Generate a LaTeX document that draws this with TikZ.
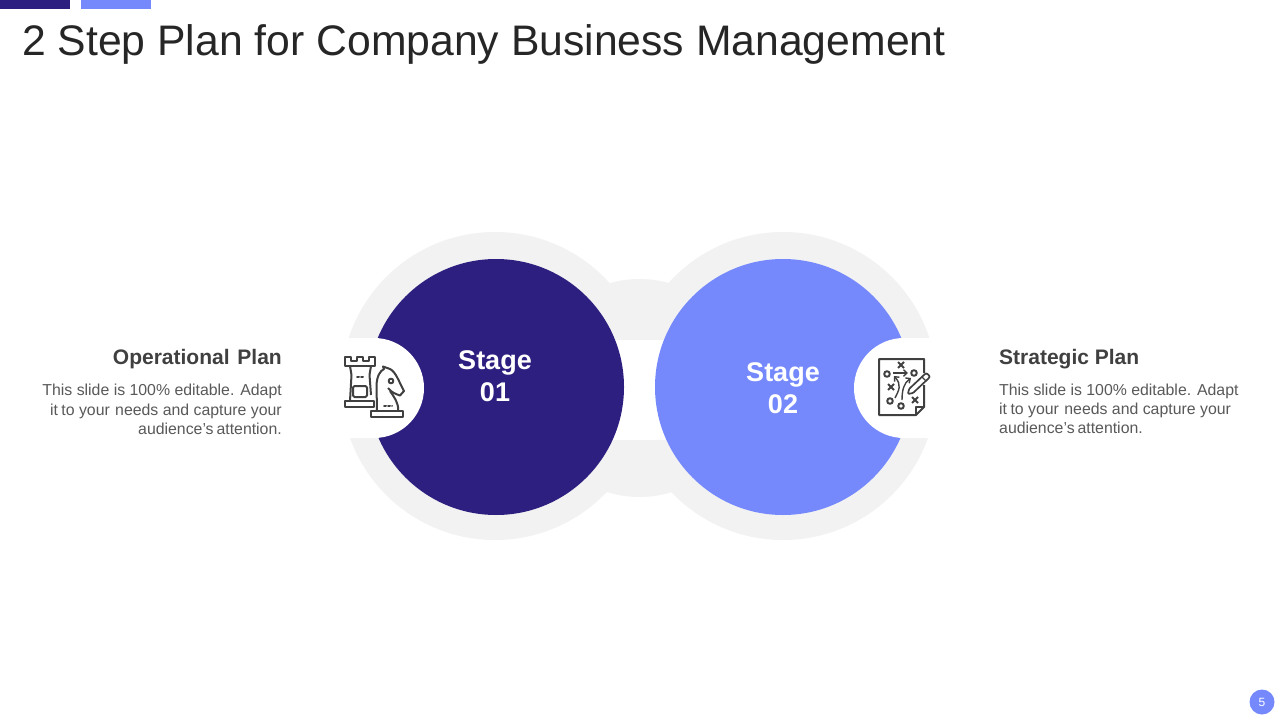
\documentclass[tikz,border=0pt]{standalone}
\usepackage{fontspec}
\usetikzlibrary{arrows.meta}
\setmainfont{Liberation Sans}
\definecolor{darkblue}{HTML}{2D1F80}
\definecolor{lightblue}{HTML}{7589FD}
\definecolor{ringgray}{HTML}{F2F2F2}
\definecolor{bodygray}{HTML}{595959}
\definecolor{headgray}{HTML}{404040}
\definecolor{titlegray}{HTML}{262626}
\definecolor{iconline}{HTML}{404040}
\tikzset{
 disc/.style={circle,inner sep=0pt,outer sep=0pt,minimum size=#1},
 stagetext/.style={font=\fontsize{27}{32}\selectfont\bfseries,text=white,align=center,inner sep=0pt},
 headr/.style={font=\fontsize{21}{24}\selectfont\bfseries,text=headgray,anchor=base east,inner sep=0pt},
 headl/.style={font=\fontsize{21}{24}\selectfont\bfseries,text=headgray,anchor=base west,inner sep=0pt},
 bodyr/.style={font=\fontsize{15.85}{19}\selectfont,text=bodygray,anchor=base east,inner sep=0pt},
 bodyl/.style={font=\fontsize{15.85}{19}\selectfont,text=bodygray,anchor=base west,inner sep=0pt},
 icon/.style={draw=iconline,line width=2pt,line join=round,fill=none},
 barb/.style={-{Straight Barb[length=3.5pt,width=6.5pt]}},
}
\begin{document}
\begin{tikzpicture}[x=1pt,y=-1pt]
\useasboundingbox[fill=white] (0,0) rectangle (1280,720);
% top bars
\fill[darkblue] (0,0) rectangle (70,8.5);
\fill[lightblue] (81,0) rectangle (151,8.5);
\node[anchor=base west,inner sep=0pt,text=titlegray,font=\fontsize{42.7}{48}\selectfont] (title) at (22,55) {2 Step Plan for Company Business Management};
% gray backgrounds
\node[disc=218pt,fill=ringgray] (mid) at (639.5,388) {};
\node[disc=308pt,fill=ringgray] (ringa) at (495,386) {};
\node[disc=308pt,fill=ringgray] (ringb) at (783,386) {};
\fill[white] (560,340) rectangle (720,440);
% main circles
\node[disc=256pt,fill=darkblue] (stagea) at (496,387) {};
\node[disc=256pt,fill=lightblue] (stageb) at (783,387) {};
% white notches
\fill[white] (374,338) arc[start angle=-90,end angle=90,radius=50] -- (330,438) -- (330,338) -- cycle;
\fill[white] (904,338) arc[start angle=270,end angle=90,radius=50] -- (950,438) -- (950,338) -- cycle;
\node[stagetext] (labela) at (495,376) {Stage\\01};
\node[stagetext] (labelb) at (783,388) {Stage\\02};
% left text
\node[headr] (opplan) at (282,364) {Operational\hspace{2pt} Plan};
\node[bodyr] (la) at (282,395.7) {This slide is 100\% editable. Adapt};
\node[bodyr] (lb) at (282,415) {it\hspace{-1pt} to your\hspace{1pt} needs and capture your};
\node[bodyr] (lc) at (282,434) {audience\symbol{39}s\hspace{-1.5pt} attention.};
% right text
\node[headl] (stratplan) at (999,364.7) {Strategic Plan};
\node[bodyl] (ra) at (999,395) {This slide is 100\% editable. Adapt};
\node[bodyl] (rb) at (999,414) {it\hspace{-1pt} to your\hspace{1pt} needs and capture your};
\node[bodyl] (rc) at (999,433) {audience\symbol{39}s\hspace{-1.5pt} attention.};
% rook icon
\draw[icon] (345,356.5) -- (345,366) -- (375,366) -- (375,356.5) -- (369,356.5) -- (369,360.5) -- (363,360.5) -- (363,356.5) -- (357,356.5) -- (357,360.5) -- (351,360.5) -- (351,356.5) -- cycle;
\draw[icon] (350,366) -- (351.5,375) -- (350,401);
\draw[icon] (371,366) -- (369.5,375) -- (371,395);
\draw[icon] (344.5,401) rectangle (374,407);
\draw[icon,rounded corners=1.5pt] (353,386) rectangle (367,397);
\draw[icon,dotted,line cap=round] (357,377) -- (363,377);
% knight icon
\draw[icon] (371,411) rectangle (403,417);
\draw[icon] (377,411) -- (376.5,385) .. controls (377,376) and (380,371) .. (384,369) -- (383,366.5) -- (390,369) .. controls (396,372) and (399,382) .. (404,391) -- (400,395.5) .. controls (396,394) and (392,393) .. (388,388);
\draw[icon] (390,391) .. controls (394,397) and (399,403) .. (398,411);
\draw[icon] (391,381) circle[radius=2.3];
\draw[icon,dotted,line cap=round] (384,406) -- (392,406);
% plan icon
\draw[icon] (924,385) -- (924,407) -- (916,415) -- (879,415) -- (879,359) -- (924,359) -- (924,373);
\draw[icon,line width=1.3pt] (916,415) -- (916,407) -- (924,407);
\draw[icon] (887,374) circle[radius=2.8];
\draw[icon] (914,373) circle[radius=2.8];
\draw[icon] (890,401) circle[radius=2.8];
\draw[icon] (901,406) circle[radius=2.8];
\foreach \cx/\cy in {901/365,891/387,915/400} {
  \draw[icon] (\cx-3,\cy-3) -- (\cx+3,\cy+3) (\cx-3,\cy+3) -- (\cx+3,\cy-3);
}
\draw[icon,line width=1.4pt,barb] (893,373) -- (908,373);
\draw[icon,line width=1.4pt,barb] (895,398) .. controls (899,390) and (902,385) .. (894,376);
\draw[icon,line width=1.4pt,barb] (902,400) .. controls (902,390) and (904,383) .. (911,378);
\draw[icon,line width=1.7pt,rounded corners=1pt] (908,394) -- (909,389) -- (925,374) .. controls (927,373) and (930,376) .. (929,378) -- (913,393) -- cycle;
\draw[icon,line width=1.3pt] (922,377) -- (926,381);
% page number
\node[disc=25pt,fill=lightblue,text=white,font=\fontsize{12}{14}\selectfont] (pagenum) at (1262,702) {5};
\end{tikzpicture}
\end{document}
